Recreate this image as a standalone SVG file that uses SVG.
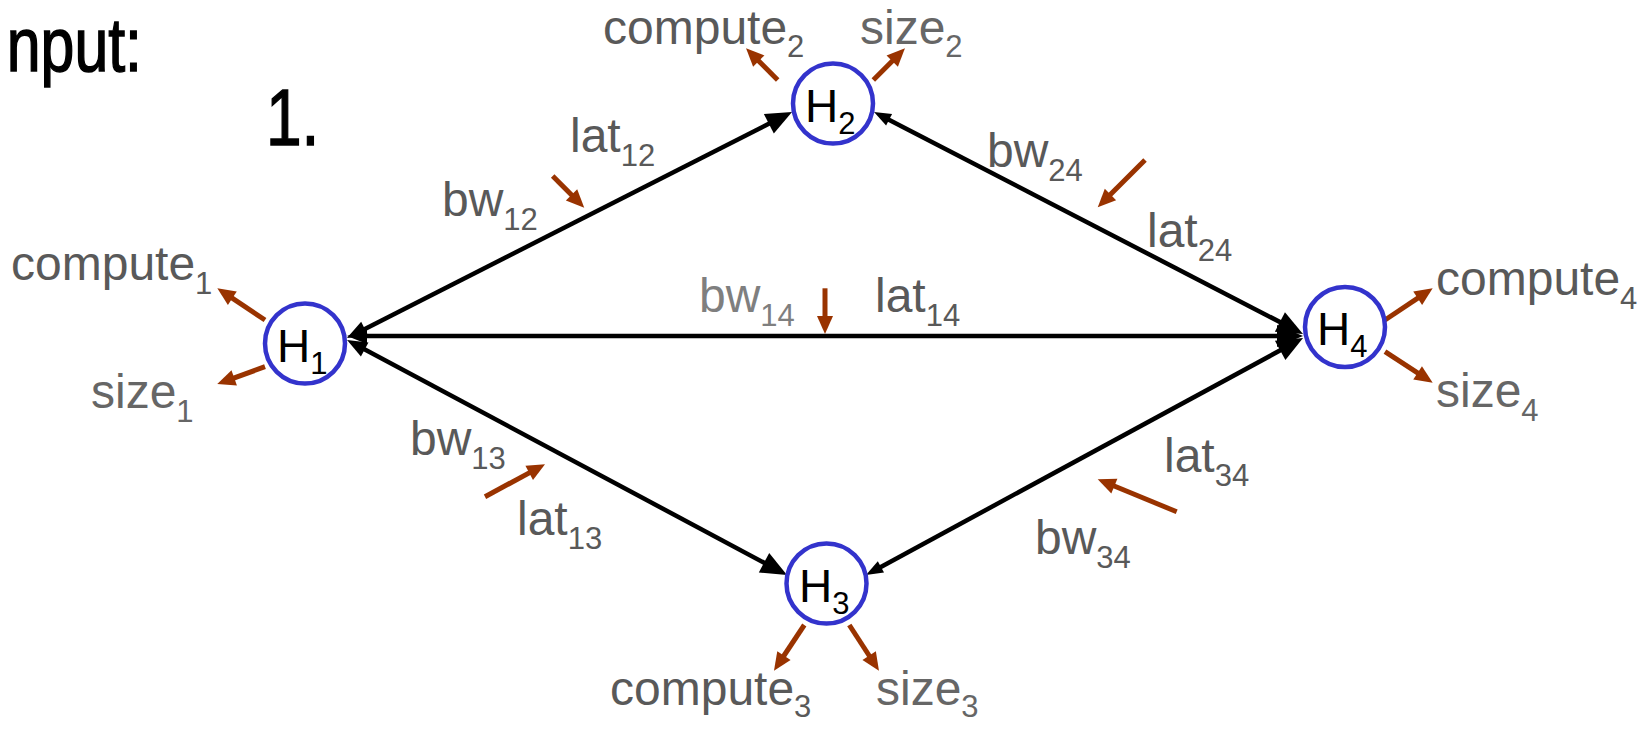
<svg xmlns="http://www.w3.org/2000/svg" width="1644" height="729" viewBox="0 0 1644 729">
<style>
.lbl{font-family:"Liberation Sans",Arial,sans-serif;font-size:48px;fill:#595959}
.lt{fill:#7f7f7f}
.sz{fill:#666666}
.sub{font-size:31px}
.hn{font-family:"Liberation Sans",Arial,sans-serif;font-size:46px;fill:#000}
.edge{stroke:#000;stroke-width:4.5;fill:none}
.br{stroke:#993300;stroke-width:5;fill:none;marker-end:url(#ab)}
.node{fill:#fff;stroke:#3333cc;stroke-width:4.5}
.hand{font-family:"Liberation Sans",Arial,sans-serif;font-size:80px;fill:#000;stroke:#000;stroke-width:1.5}
</style>
<defs>
<marker id="al" markerUnits="userSpaceOnUse" markerWidth="26" markerHeight="22" refX="18" refY="11" orient="auto-start-reverse" overflow="visible"><path d="M0,0 L26,11 L0,22 z" fill="#000"/></marker>
<marker id="am" markerUnits="userSpaceOnUse" markerWidth="20" markerHeight="16" refX="12" refY="8" orient="auto-start-reverse" overflow="visible"><path d="M0,0 L20,8 L0,16 z" fill="#000"/></marker>
<marker id="as" markerUnits="userSpaceOnUse" markerWidth="17" markerHeight="13" refX="9" refY="6.5" orient="auto-start-reverse" overflow="visible"><path d="M0,0 L17,6.5 L0,13 z" fill="#000"/></marker>
<marker id="ab" markerUnits="userSpaceOnUse" markerWidth="18" markerHeight="16" refX="10" refY="8" orient="auto" overflow="visible"><path d="M0,0 L18,8 L0,16 z" fill="#993300"/></marker>
</defs>
<rect width="1644" height="729" fill="#fff"/>

<g id="title">
<g transform="translate(142,71) scale(0.8,1)"><text class="hand" style="font-size:76px" text-anchor="end">nput:</text></g>
<g transform="translate(266,145) scale(0.8,1)"><text class="hand">1.</text></g>
</g>

<g id="connectors">
<path class="edge" d="M354.1,334.4 L784.9,115.6" marker-start="url(#am)" marker-end="url(#al)"/>
<path class="edge" d="M354.1,343.8 L779.9,571.2" marker-start="url(#am)" marker-end="url(#al)"/>
<path class="edge" d="M355,336 L1295,336" marker-start="url(#am)" marker-end="url(#al)"/>
<path class="edge" d="M881.1,115.7 L1295.9,330.3" marker-start="url(#as)" marker-end="url(#al)"/>
<path class="edge" d="M873.0,571.2 L1296.0,341.8" marker-start="url(#as)" marker-end="url(#al)"/>

<path class="br" d="M777.7,80 L751.7,54"/>
<path class="br" d="M873.3,80 L899.3,54"/>
<path class="br" d="M265,320 L224.0,292.7"/>
<path class="br" d="M265,366.7 L224.8,381.3"/>
<path class="br" d="M1385,320 L1426.0,292.7"/>
<path class="br" d="M1385,351.7 L1426.0,378.3"/>
<path class="br" d="M804.3,625 L778.4,664.0"/>
<path class="br" d="M849.3,625 L874.6,664.0"/>
<path class="br" d="M552.7,176 L578.6,202.0"/>
<path class="br" d="M825,288.3 L825,326"/>
<path class="br" d="M485,496.7 L538.0,468.1"/>
<path class="br" d="M1145,160 L1103.4,201.6"/>
<path class="br" d="M1176.7,511.7 L1105.1,482.3"/>
</g>

<g id="labels">
<text class="lbl" x="603" y="44">compute<tspan class="sub" dy="13">2</tspan></text>
<text class="lbl sz" x="860" y="44">size<tspan class="sub" dy="13">2</tspan></text>
<text class="lbl" x="570" y="152">lat<tspan class="sub" dy="14">12</tspan></text>
<text class="lbl" x="442" y="216">bw<tspan class="sub" dy="14">12</tspan></text>
<text class="lbl" x="11" y="280">compute<tspan class="sub" dy="14">1</tspan></text>
<text class="lbl sz" x="91" y="408">size<tspan class="sub" dy="14">1</tspan></text>
<text class="lbl lt" x="699" y="312">bw<tspan class="sub" dy="14">14</tspan></text>
<text class="lbl" x="875" y="312">lat<tspan class="sub" dy="14">14</tspan></text>
<text class="lbl" x="1436" y="295">compute<tspan class="sub" dy="14">4</tspan></text>
<text class="lbl sz" x="1436" y="407">size<tspan class="sub" dy="14">4</tspan></text>
<text class="lbl" x="410" y="455">bw<tspan class="sub" dy="14">13</tspan></text>
<text class="lbl" x="517" y="535">lat<tspan class="sub" dy="14">13</tspan></text>
<text class="lbl" x="610" y="705">compute<tspan class="sub" dy="12">3</tspan></text>
<text class="lbl sz" x="876" y="705">size<tspan class="sub" dy="12">3</tspan></text>
<text class="lbl" x="987" y="167">bw<tspan class="sub" dy="14">24</tspan></text>
<text class="lbl" x="1147" y="247">lat<tspan class="sub" dy="14">24</tspan></text>
<text class="lbl" x="1164" y="472">lat<tspan class="sub" dy="14">34</tspan></text>
<text class="lbl" x="1035" y="554">bw<tspan class="sub" dy="14">34</tspan></text>
</g>

<g id="H1"><circle class="node" cx="305" cy="343.5" r="40"/><text class="hn" x="277" y="361.5">H<tspan class="sub" dy="12">1</tspan></text></g>
<g id="H2"><circle class="node" cx="833" cy="103.5" r="40"/><text class="hn" x="805" y="121.5">H<tspan class="sub" dy="12">2</tspan></text></g>
<g id="H3"><circle class="node" cx="826.5" cy="583.5" r="40"/><text class="hn" x="799" y="601.5">H<tspan class="sub" dy="12">3</tspan></text></g>
<g id="H4"><circle class="node" cx="1345" cy="327" r="40"/><text class="hn" x="1317" y="345">H<tspan class="sub" dy="12">4</tspan></text></g>
</svg>
